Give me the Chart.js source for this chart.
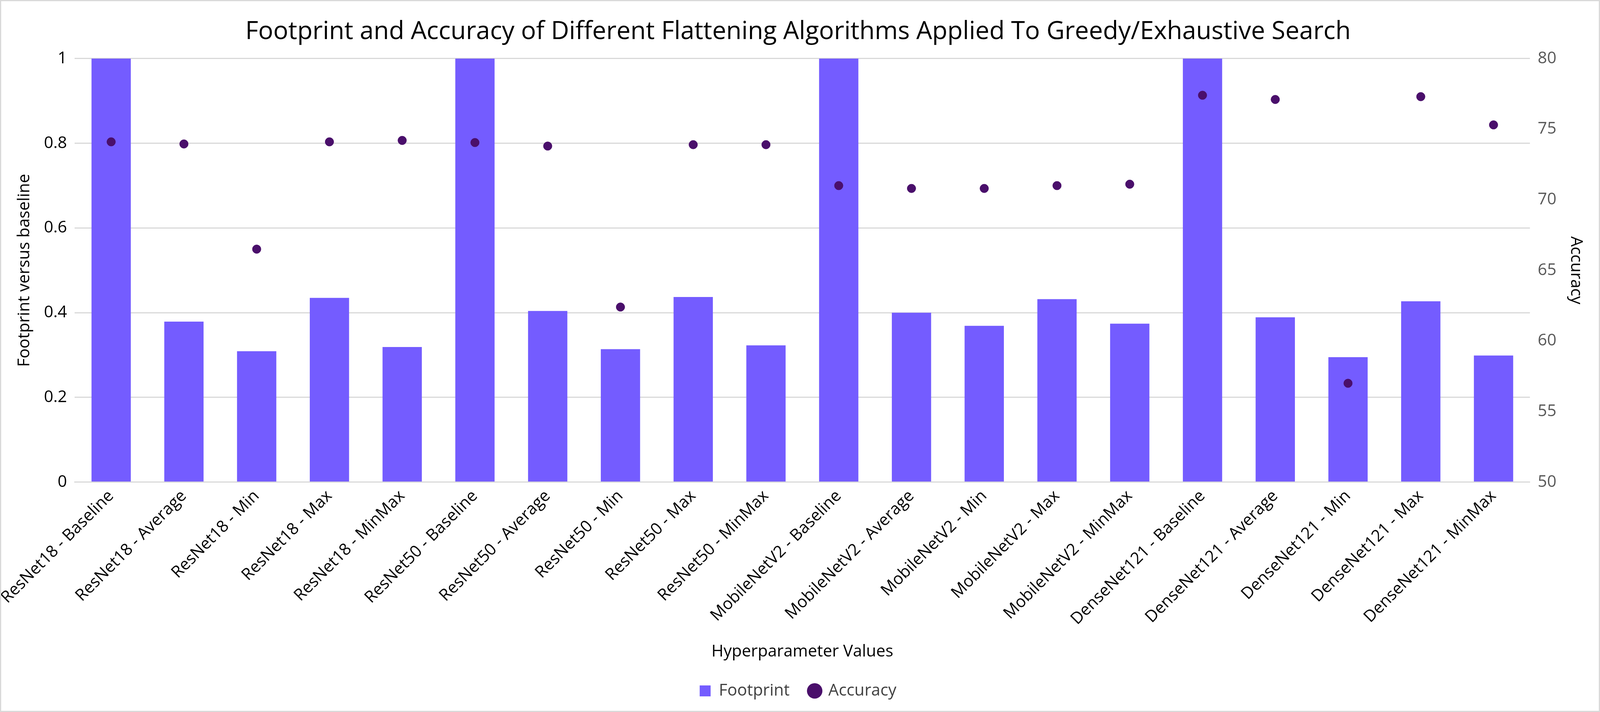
<!DOCTYPE html>
<html>
<head>
  <meta charset="utf-8">
  <title>Footprint and Accuracy</title>
  <script src="https://cdn.jsdelivr.net/npm/chart.js"></script>
  <style>
    html, body { margin: 0; padding: 0; background: #fff; width: 100%; height: 100%; overflow: hidden; }
    #wrap { position: relative; width: 100vw; height: 100vh; box-sizing: border-box; border: 3px solid #d9d9d9; }
  </style>
</head>
<body>
  <div id="wrap"><canvas id="chart"></canvas></div>

  <script>
    const labels = [
      'ResNet18 - Baseline', 'ResNet18 - Average', 'ResNet18 - Min', 'ResNet18 - Max', 'ResNet18 - MinMax',
      'ResNet50 - Baseline', 'ResNet50 - Average', 'ResNet50 - Min', 'ResNet50 - Max', 'ResNet50 - MinMax',
      'MobileNetV2 - Baseline', 'MobileNetV2 - Average', 'MobileNetV2 - Min', 'MobileNetV2 - Max', 'MobileNetV2 - MinMax',
      'DenseNet121 - Baseline', 'DenseNet121 - Average', 'DenseNet121 - Min', 'DenseNet121 - Max', 'DenseNet121 - MinMax'
    ];
    const footprint = [1, 0.379, 0.309, 0.435, 0.319, 1, 0.404, 0.314, 0.437, 0.323,
                       1, 0.400, 0.369, 0.432, 0.374, 1, 0.389, 0.295, 0.427, 0.299];
    const accuracy = [74.1, 73.95, 66.5, 74.1, 74.2, 74.05, 73.8, 62.4, 73.9, 73.9,
                      71.0, 70.8, 70.8, 71.0, 71.1, 77.4, 77.1, 57.0, 77.3, 75.3];

    Chart.defaults.font.family = 'Open Sans, Noto Sans, sans-serif';
    Chart.defaults.color = '#595959';

    new Chart(document.getElementById('chart'), {
      data: {
        labels: labels,
        datasets: [{
          type: 'line',
          label: 'Accuracy',
          data: accuracy,
          yAxisID: 'y1',
          showLine: false,
          pointRadius: 11,
          backgroundColor: '#4a0f6b',
          borderColor: '#4a0f6b',
          order: 0
        }, {
          type: 'bar',
          label: 'Footprint',
          data: footprint,
          yAxisID: 'y',
          backgroundColor: '#745cff',
          barPercentage: 1,
          categoryPercentage: 0.54,
          order: 1
        }]
      },
      options: {
        responsive: true,
        maintainAspectRatio: false,
        animation: false,
        layout: { padding: { left: 20, right: 30, top: 20, bottom: 20 } },
        plugins: {
          title: {
            display: true,
            text: 'Footprint and Accuracy of Different Flattening Algorithms Applied To Greedy/Exhaustive Search',
            color: '#000',
            font: { size: 64, weight: 'normal' },
            padding: { top: 20, bottom: 30 }
          },
          legend: {
            position: 'bottom',
            labels: {
              font: { size: 42 },
              color: '#404040',
              usePointStyle: true,
              boxWidth: 28,
              boxHeight: 28,
              padding: 50,
              generateLabels: () => [
                { text: 'Footprint', fillStyle: '#745cff', strokeStyle: '#745cff', lineWidth: 0, datasetIndex: 1, pointStyle: 'rect', fontColor: '#404040' },
                { text: 'Accuracy', fillStyle: '#4a0f6b', strokeStyle: '#4a0f6b', lineWidth: 0, datasetIndex: 0, pointStyle: 'circle', fontColor: '#404040' }
              ]
            }
          }
        },
        scales: {
          x: {
            grid: { display: false },
            border: { color: '#d9d9d9', width: 3 },
            ticks: { font: { size: 42 }, color: '#000', maxRotation: 45, minRotation: 45 },
            title: { display: true, text: 'Hyperparameter Values', color: '#000', font: { size: 42 }, padding: { top: 30 } }
          },
          y: {
            position: 'left',
            min: 0, max: 1,
            ticks: { stepSize: 0.2, font: { size: 42 }, color: '#000', padding: 20, callback: v => String(+v.toFixed(1)) },
            grid: { color: '#d9d9d9', lineWidth: 3, drawTicks: false },
            border: { display: false },
            title: { display: true, text: 'Footprint versus baseline', color: '#000', font: { size: 42 } }
          },
          y1: {
            position: 'right',
            min: 50, max: 80,
            ticks: { stepSize: 5, font: { size: 42 }, color: '#595959', padding: 20 },
            grid: { display: false, drawTicks: false },
            border: { display: false },
            title: { display: true, text: 'Accuracy', color: '#000', font: { size: 42 } }
          }
        }
      }
    });
  </script>
</body>
</html>
